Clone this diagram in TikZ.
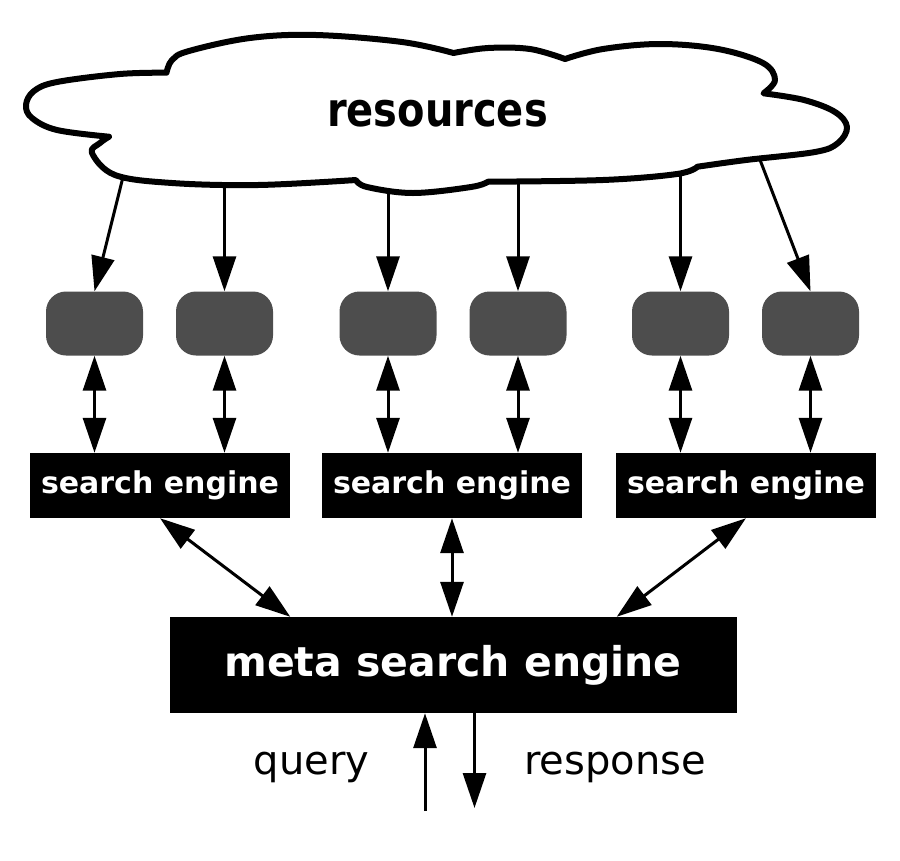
\documentclass[tikz,border=0pt]{standalone}
\usepackage{fontspec}
\setmainfont{DejaVu Sans}
\usetikzlibrary{arrows.meta,calc}
\definecolor{boxgrey}{HTML}{4D4D4D}
\tikzset{
  conn/.style={line width=3pt, -{Triangle[length=35pt,width=23pt]}},
  dconn/.style={line width=3pt, {Triangle[length=35pt,width=23pt]}-{Triangle[length=35pt,width=23pt]}},
  resbox/.style={fill=boxgrey, rounded corners=20pt, minimum width=97pt, minimum height=64pt, inner sep=0pt},
  sebox/.style={fill=black, text=white, minimum width=260pt, minimum height=65pt, inner sep=0pt,
    font=\fontsize{30}{36}\selectfont\bfseries},
  metabox/.style={fill=black, text=white, minimum width=567pt, minimum height=96pt, inner sep=0pt,
    font=\fontsize{41}{48}\selectfont\bfseries},
  lbl/.style={inner sep=0pt, anchor=base, font=\fontsize{40}{48}\selectfont},
  cloudline/.style={line width=6pt, fill=white, line join=round}
}
\begin{document}
\begin{tikzpicture}[x=1pt,y=-1pt]
\useasboundingbox (0,0) rectangle (900,860);
% resource boxes
\node[resbox] (r1) at (94.5,323.5) {};
\node[resbox] (r2) at (224.5,323.5) {};
\node[resbox] (r3) at (388,323.5) {};
\node[resbox] (r4) at (518,323.5) {};
\node[resbox] (r5) at (680.5,323.5) {};
\node[resbox] (r6) at (810.5,323.5) {};
% search engines
\node[sebox] (se1) at (160,485.5) {search engine};
\node[sebox] (se2) at (452,485.5) {search engine};
\node[sebox] (se3) at (746,485.5) {search engine};
% meta
\node[metabox] (meta) at (453,665) {meta search engine};
% cloud anchor points
\coordinate (c1) at (126,165);
\coordinate (c2) at (224.5,175);
\coordinate (c3) at (388,175);
\coordinate (c4) at (518,175);
\coordinate (c5) at (680.5,165);
\coordinate (c6) at (757,152);
\draw[conn] (c1) -- (r1.north);
\draw[conn] (c2) -- (r2.north);
\draw[conn] (c3) -- (r3.north);
\draw[conn] (c4) -- (r4.north);
\draw[conn] (c5) -- (r5.north);
\draw[conn] (c6) -- (r6.north);
% cloud
\draw[cloudline]
  plot[smooth,tension=0.6] coordinates {(166.5,72.7) (172,60) (189,51) (250,38) (316,35) (402,42) (453.5,53)}
  -- plot[smooth,tension=0.6] coordinates {(453.5,53) (488,48) (530,49) (565,59)}
  -- plot[smooth,tension=0.6] coordinates {(565,59) (603,49) (660,44) (718,49) (763,63) (775,80) (763.5,93.3)}
  -- plot[smooth,tension=0.6] coordinates {(763.5,93.3) (804,100) (835,112) (847,127) (838,143) (815,152) (746,160) (697.5,166.7)}
  -- plot[smooth,tension=0.6] coordinates {(697.5,166.7) (677,174) (603,180) (488,181.7)}
  -- plot[smooth,tension=0.6] coordinates {(488,181.7) (471,187) (413,193) (367,187) (356,180)}
  -- plot[smooth,tension=0.6] coordinates {(356,180) (258,185) (172,183) (115,175) (92,153) (100,143) (109,136.7)}
  -- plot[smooth,tension=0.6] coordinates {(109,136.7) (57,130) (32,118) (26,105) (34,91) (57,82) (120,74) (166.5,72.7)}
  -- cycle;
\node[inner sep=0pt, anchor=base] (res) at (437.5,126.5)
  {\scalebox{0.85}[1]{\fontsize{47}{56}\selectfont\bfseries resources}};
% resource <-> search engine
\draw[dconn] (r1.south) -- (r1.south |- se1.north);
\draw[dconn] (r2.south) -- (r2.south |- se1.north);
\draw[dconn] (r3.south) -- (r3.south |- se2.north);
\draw[dconn] (r4.south) -- (r4.south |- se2.north);
\draw[dconn] (r5.south) -- (r5.south |- se3.north);
\draw[dconn] (r6.south) -- (r6.south |- se3.north);
% search engine <-> meta
\coordinate (ml) at ($(meta.north west)+(121,0)$);
\coordinate (mr) at ($(meta.north east)+(-120,0)$);
\draw[dconn] (se1.south) -- (ml);
\draw[dconn] (se2.south) -- (se2.south |- meta.north);
\draw[dconn] (se3.south) -- (mr);
% query / response
\coordinate (qb) at (425,811);
\coordinate (rb) at (474.5,808);
\draw[conn] (qb) -- (qb |- meta.south);
\draw[conn] (rb |- meta.south) -- (rb);
\node[lbl] (query) at (311.5,774) {query};
\node[lbl] (resp) at (615,774) {response};
\end{tikzpicture}
\end{document}
